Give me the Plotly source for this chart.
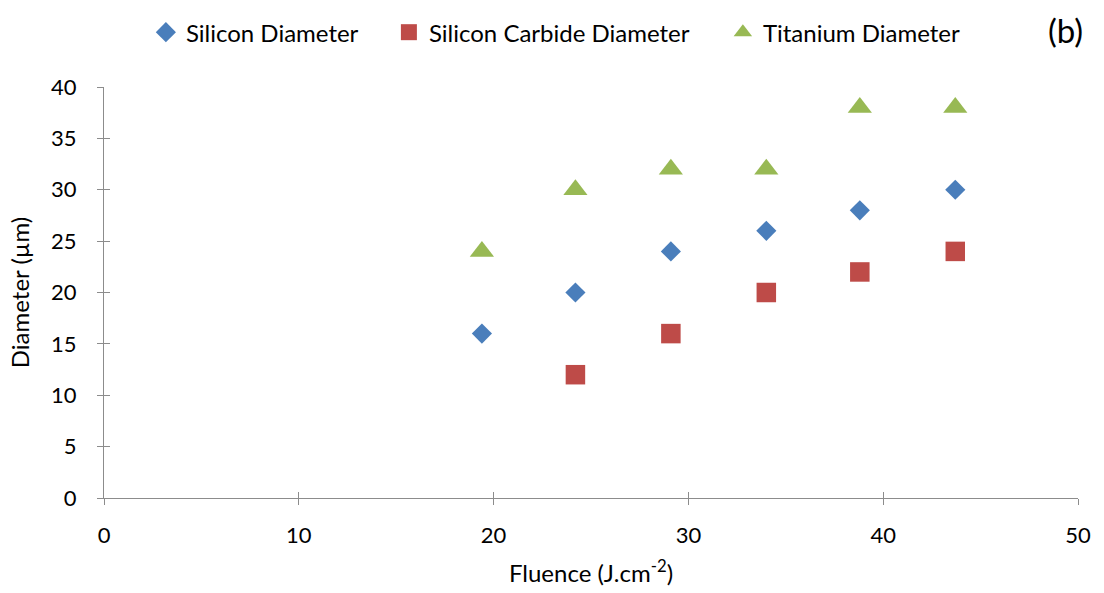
import plotly.graph_objects as go

# Laser fluence (J/cm^2) and measured crater diameters (µm)
fluence = [19.4, 24.2, 29.1, 34.0, 38.8, 43.7]
silicon_diameter = [16, 20, 24, 26, 28, 30]
sic_fluence = [24.2, 29.1, 34.0, 38.8, 43.7]
sic_diameter = [12, 16, 20, 22, 24]
titanium_diameter = [24, 30, 32, 32, 38, 38]

x_ticks = [0, 10, 20, 30, 40, 50]
y_ticks = [0, 5, 10, 15, 20, 25, 30, 35, 40]

FONT = "Lato, 'Open Sans', sans-serif"
AXIS_GREY = "#8c8c8c"

fig = go.Figure()
fig.add_trace(go.Scatter(
    x=fluence, y=silicon_diameter, mode="markers", name="Silicon Diameter",
    marker=dict(symbol="diamond", size=15.5, color="#4a7ebb"), legend="legend",
))
fig.add_trace(go.Scatter(
    x=sic_fluence, y=sic_diameter, mode="markers", name="Silicon Carbide Diameter",
    marker=dict(symbol="square", size=19.5, color="#be4b48"), legend="legend2",
))
fig.add_trace(go.Scatter(
    x=fluence, y=titanium_diameter, mode="markers", name="Titanium Diameter",
    marker=dict(symbol="triangle-up", size=21, color="#98b954"), legend="legend3",
))
# Empty trace on the overlay axes so their inner tick marks get drawn
fig.add_trace(go.Scatter(x=[], y=[], xaxis="x2", yaxis="y2", showlegend=False,
                         hoverinfo="skip"))

axis_common = dict(
    showgrid=False, zeroline=False, showline=True, linecolor=AXIS_GREY,
    linewidth=1.3, ticks="outside", ticklen=6, tickcolor=AXIS_GREY, tickwidth=1.3,
    tickfont=dict(family=FONT, size=22, color="#000"), automargin=False,
)
inner_ticks = dict(showticklabels=False, showgrid=False, zeroline=False,
                   showline=False, ticks="inside", ticklen=6,
                   tickcolor=AXIS_GREY, tickwidth=1.3, automargin=False)


def legend_box(x):
    return dict(orientation="h", x=x + 0.005, xanchor="left", y=0.983, yanchor="top",
                yref="container", font=dict(family=FONT, size=24),
                itemclick=False, bgcolor="rgba(0,0,0,0)")


fig.update_layout(
    width=1104, height=593,
    margin=dict(l=104, r=26, t=87, b=95),
    paper_bgcolor="white", plot_bgcolor="white",
    font=dict(family=FONT, size=22, color="#000"),
    xaxis=dict(range=[0, 50], tickvals=x_ticks, ticklabelstandoff=11,
               title=dict(text="Fluence (J.cm<sup>-2</sup>)", font=dict(size=24), standoff=18),
               **axis_common),
    yaxis=dict(range=[0, 40], tickvals=y_ticks, ticklabelstandoff=16,
               title=dict(text="Diameter (µm)", font=dict(size=24), standoff=14),
               **axis_common),
    xaxis2=dict(overlaying="x", range=[0, 50], tickvals=x_ticks, side="bottom",
                anchor="y2", **inner_ticks),
    yaxis2=dict(overlaying="y", range=[0, 40], tickvals=y_ticks, side="left",
                anchor="x2", **inner_ticks),
    legend=legend_box(0.038),
    legend2=legend_box(0.2875),
    legend3=legend_box(0.6304),
    showlegend=True,
)

fig.add_annotation(text="(b)", xref="paper", yref="paper", x=1.007, y=1.139,
                   xanchor="right", yanchor="middle", showarrow=False,
                   font=dict(family=FONT, size=33, color="#000"))

fig.write_html("out.html")
